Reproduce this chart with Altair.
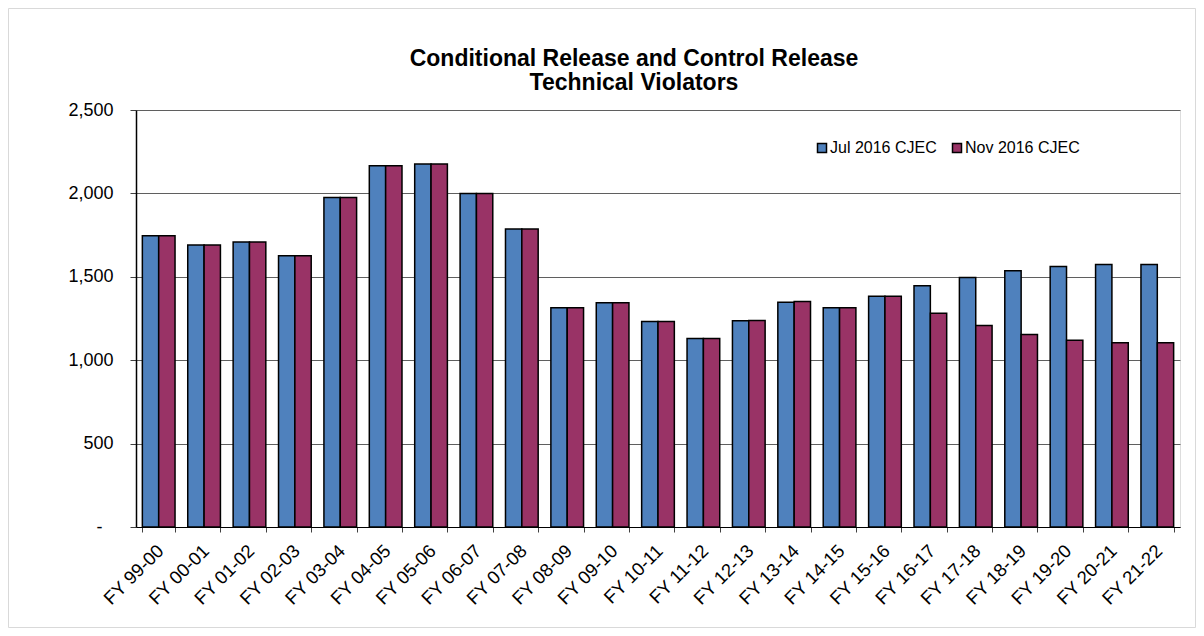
import altair as alt
import pandas as pd

cats = ["FY 99-00", "FY 00-01", "FY 01-02", "FY 02-03", "FY 03-04", "FY 04-05",
        "FY 05-06", "FY 06-07", "FY 07-08", "FY 08-09", "FY 09-10", "FY 10-11",
        "FY 11-12", "FY 12-13", "FY 13-14", "FY 14-15", "FY 15-16", "FY 16-17",
        "FY 17-18", "FY 18-19", "FY 19-20", "FY 20-21", "FY 21-22"]
series = ["Jul 2016 CJEC", "Nov 2016 CJEC"]
jul = [1746, 1690, 1708, 1626, 1976, 2166, 2176, 2000, 1786, 1314, 1344, 1232,
       1130, 1236, 1348, 1314, 1384, 1446, 1496, 1536, 1562, 1574, 1574]
nov = [1746, 1690, 1708, 1626, 1976, 2166, 2176, 2000, 1786, 1314, 1344, 1232,
       1130, 1238, 1352, 1314, 1384, 1282, 1208, 1154, 1120, 1104, 1104]
y_ticks = [0, 500, 1000, 1500, 2000, 2500]
title_lines = ["Conditional Release and Control Release", "Technical Violators"]
colors = ["#4F81BD", "#993366"]

rows = []
for c, a, b in zip(cats, jul, nov):
    rows.append({"fy": c, "series": series[0], "value": a})
    rows.append({"fy": c, "series": series[1], "value": b})
df = pd.DataFrame(rows)

FONT = "Liberation Sans"

bars = alt.Chart(df).mark_bar(stroke="black", strokeWidth=1.5).encode(
    x=alt.X("fy:N", sort=cats,
            scale=alt.Scale(paddingInner=0.28, paddingOuter=0.14),
            axis=alt.Axis(title=None, labelAngle=-45, tickBand="extent",
                          tickSize=5, tickColor="#404040", domainColor="black",
                          labelFontSize=18.5, labelFont=FONT, labelColor="black",
                          labelPadding=9, labelOffset=-5)),
    xOffset=alt.XOffset("series:N", sort=series,
                        scale=alt.Scale(paddingInner=0, paddingOuter=0)),
    y=alt.Y("value:Q", scale=alt.Scale(domain=[0, 2500], nice=False),
            axis=alt.Axis(title=None, values=y_ticks, format=",.0f",
                          labelExpr="datum.value == 0 ? '-' : datum.label",
                          grid=True, gridColor="#5f5f5f", gridWidth=1,
                          tickSize=6, tickColor="#404040", domainColor="black",
                          domainWidth=1.5,
                          labelFontSize=18, labelFont=FONT, labelColor="black",
                          labelPadding={"condition": {"test": "datum.value == 0", "value": 28},
                                        "value": 17})),
    color=alt.Color("series:N", sort=series,
                    scale=alt.Scale(domain=series, range=colors),
                    legend=alt.Legend(orient="none", legendX=678, legendY=30,
                                      direction="horizontal", title=None,
                                      padding=0,
                                      symbolType="square", symbolSize=81,
                                      symbolStrokeColor="black", symbolStrokeWidth=1.5,
                                      labelFontSize=16, labelFont=FONT,
                                      labelColor="black", labelOffset=0,
                                      columnPadding=12)),
)

title = alt.Chart(alt.Data(values=[{}])).mark_text(
    text=title_lines, font=FONT, fontSize=23, fontWeight="bold", color="black",
    align="center", baseline="alphabetic", lineHeight=24
).encode(x=alt.value(498), y=alt.value(-44))

border = alt.Chart(alt.Data(values=[{}])).mark_rect(
    fill="transparent", stroke="#D9D9D9", strokeWidth=1
).encode(
    x=alt.value(-127.5), x2=alt.value(1059.5),
    y=alt.value(-101.5), y2=alt.value(517.5),
)

chart = alt.layer(border, bars, title).properties(
    width=1044, height=417,
    autosize=alt.AutoSizeParams(type="none"),
    padding={"left": 128, "top": 102, "right": 16, "bottom": 101},
).configure_view(fill="#C0C0C0", stroke="#808080").configure(background="white")

chart.save("out.html", embed_options={"renderer": "svg", "actions": False})
